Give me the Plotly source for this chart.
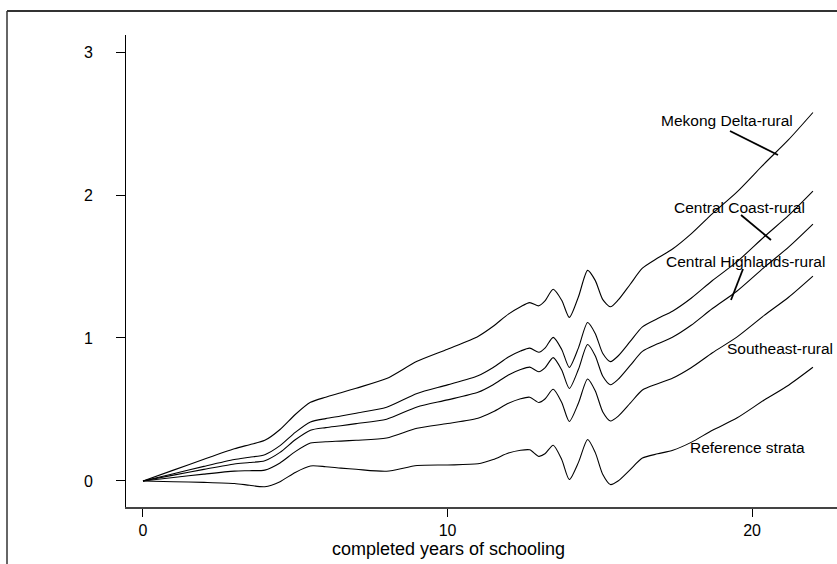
import plotly.graph_objects as go

# ---- data ----
years = [0, 1, 2, 3, 3.5, 4, 4.5, 5, 5.5, 6, 6.5, 7, 8, 9, 10, 11, 11.5, 12, 12.4, 12.7,
         13.0, 13.2, 13.47, 13.75, 14.0, 14.3, 14.6, 14.85, 15.1, 15.35, 15.6, 16.0, 16.4,
         16.9, 17.4, 18, 18.7, 19.5, 20.4, 21.2, 22]

reference_strata = [0, -0.005, -0.01, -0.018, -0.03, -0.04, -0.005, 0.06, 0.105, 0.1, 0.09, 0.082,
                    0.068, 0.108, 0.112, 0.12, 0.15, 0.195, 0.215, 0.218, 0.172, 0.19, 0.25, 0.15,
                    0.01, 0.13, 0.29, 0.2, 0.045, -0.025, 0.0, 0.08, 0.16, 0.19, 0.215, 0.27,
                    0.355, 0.44, 0.566, 0.67, 0.795]

southeast_rural = [0, 0.024, 0.048, 0.069, 0.072, 0.076, 0.126, 0.205, 0.265, 0.274, 0.279, 0.285,
                   0.3, 0.369, 0.402, 0.439, 0.484, 0.543, 0.575, 0.586, 0.549, 0.573, 0.641, 0.549,
                   0.416, 0.545, 0.713, 0.631, 0.483, 0.42, 0.452, 0.544, 0.636, 0.68, 0.72, 0.792,
                   0.897, 1.006, 1.158, 1.285, 1.433]

central_highlands_rural = [0, 0.041, 0.081, 0.119, 0.129, 0.142, 0.2, 0.288, 0.355, 0.373, 0.386,
                           0.401, 0.432, 0.518, 0.567, 0.62, 0.673, 0.741, 0.779, 0.796, 0.764,
                           0.791, 0.863, 0.776, 0.647, 0.781, 0.954, 0.876, 0.732, 0.673, 0.71,
                           0.808, 0.906, 0.959, 1.007, 1.089, 1.206, 1.327, 1.494, 1.635, 1.796]

central_coast_rural = [0, 0.051, 0.102, 0.15, 0.166, 0.184, 0.247, 0.34, 0.413, 0.436, 0.454, 0.474,
                       0.516, 0.612, 0.672, 0.736, 0.794, 0.867, 0.909, 0.929, 0.9, 0.929, 1.004,
                       0.92, 0.794, 0.931, 1.108, 1.032, 0.891, 0.835, 0.874, 0.976, 1.078, 1.136,
                       1.189, 1.278, 1.402, 1.532, 1.708, 1.857, 2.027]

mekong_delta_rural = [0, 0.076, 0.152, 0.225, 0.254, 0.284, 0.36, 0.465, 0.55, 0.586, 0.617, 0.649,
                      0.716, 0.837, 0.922, 1.011, 1.082, 1.167, 1.219, 1.247, 1.225, 1.259, 1.341,
                      1.264, 1.144, 1.288, 1.473, 1.403, 1.268, 1.218, 1.264, 1.376, 1.488, 1.559,
                      1.624, 1.728, 1.87, 2.02, 2.218, 2.387, 2.577]

series = [mekong_delta_rural, central_coast_rural, central_highlands_rural,
          southeast_rural, reference_strata]

x_ticks = [0, 10, 20]
y_ticks = [0, 1, 2, 3]
x_title = "completed years of schooling"

# ---- layout geometry (pixels) ----
W, H = 837, 564
L, R, T, B = 126, 0, 35, 57
XR = [-0.558, 22.79]
YR = [-0.182, 3.119]
PW, PH = W - L - R, H - T - B


def dx(px):
    return XR[0] + (px - L) / PW * (XR[1] - XR[0])


def dy(py):
    return YR[0] + (H - B - py) / PH * (YR[1] - YR[0])


def pxp(px):
    return (px - L) / PW


def pyp(py):
    return (H - B - py) / PH


FONT = "Liberation Sans, Arial, sans-serif"

fig = go.Figure()
for s in series:
    fig.add_trace(go.Scatter(x=years, y=s, mode="lines", showlegend=False,
                             line=dict(color="black", width=1.1, shape="spline", smoothing=0.7),
                             hoverinfo="skip"))

labels = [
    ("Mekong Delta-rural", 727, 120, (730, 131, 778, 155)),
    ("Central Coast-rural", 739, 207, (741, 215, 771, 240)),
    ("Central Highlands-rural", 745, 261, (743, 269, 731, 300)),
    ("Southeast-rural", 780, 348, None),
    ("Reference strata", 747, 447, None),
]
annotations = []
shapes = []
for text, cx, cy, seg in labels:
    annotations.append(dict(x=dx(cx), y=dy(cy), xref="x", yref="y", text=text, showarrow=False,
                            font=dict(family=FONT, size=15.5, color="black"),
                            xanchor="center", yanchor="middle"))
    if seg:
        shapes.append(dict(type="line", xref="x", yref="y", x0=dx(seg[0]), y0=dy(seg[1]),
                           x1=dx(seg[2]), y1=dy(seg[3]), line=dict(color="black", width=1.8)))

annotations.append(dict(x=pxp(448), y=pyp(549), xref="paper", yref="paper", text=x_title,
                        showarrow=False, font=dict(family=FONT, size=18, color="black"),
                        xanchor="center", yanchor="middle"))

# outer frame (top and left edges visible)
shapes.append(dict(type="line", xref="paper", yref="paper", x0=pxp(7), y0=pyp(11),
                   x1=pxp(840), y1=pyp(11), line=dict(color="#333333", width=2)))
shapes.append(dict(type="line", xref="paper", yref="paper", x0=pxp(7), y0=pyp(11),
                   x1=pxp(7), y1=pyp(570), line=dict(color="#333333", width=1.5)))

fig.update_layout(
    width=W, height=H, margin=dict(l=L, r=R, t=T, b=B, pad=0),
    paper_bgcolor="white", plot_bgcolor="white",
    annotations=annotations, shapes=shapes,
    xaxis=dict(range=XR, tickvals=x_ticks, ticks="outside", ticklen=8, tickwidth=1,
               tickcolor="black", showline=True, linecolor="#444444", linewidth=1.5,
               showgrid=False, zeroline=False, tickfont=dict(family=FONT, size=16, color="black")),
    yaxis=dict(range=YR, tickvals=y_ticks, ticks="outside", ticklen=9, tickwidth=1,
               tickcolor="black", showline=True, linecolor="black", linewidth=1,
               showgrid=False, zeroline=False, ticklabelstandoff=20,
               tickfont=dict(family=FONT, size=16, color="black")),
)

fig.write_html("out.html")
